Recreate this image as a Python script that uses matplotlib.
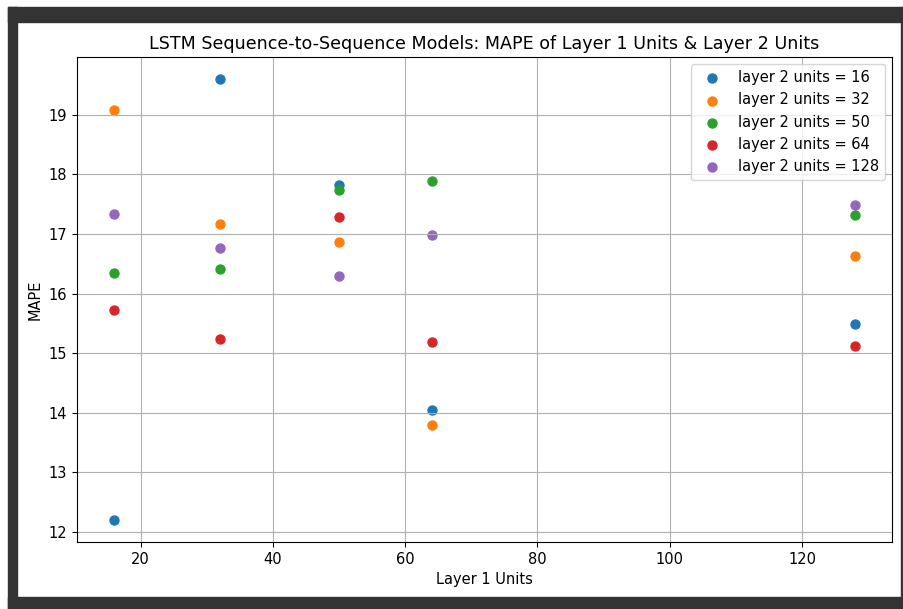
import matplotlib
matplotlib.use('Agg')
import matplotlib.pyplot as plt
from matplotlib.patches import Rectangle

# layer 1 units on the x axis, one series per layer 2 setting
layer1_units = [16, 32, 50, 64, 128]
layer2_units = [16, 32, 50, 64, 128]

mape_l2_16 = [12.20, 19.60, 17.82, 14.05, 15.49]
mape_l2_32 = [19.08, 17.17, 16.87, 13.80, 16.63]
mape_l2_50 = [16.35, 16.41, 17.74, 17.89, 17.32]
mape_l2_64 = [15.72, 15.24, 17.29, 15.19, 15.12]
mape_l2_128 = [17.33, 16.77, 16.30, 16.99, 17.49]

mape_series = [mape_l2_16, mape_l2_32, mape_l2_50, mape_l2_64, mape_l2_128]

plt.rcParams['font.size'] = 10.5

W, H = 904, 609
fig = plt.figure(figsize=(W / 100, H / 100), dpi=100)

# dark notebook-style frame around the plot area
frame = '#333333'
def px_rect(x0, y0, x1, y1):
    fig.patches.append(Rectangle((x0 / W, 1 - y1 / H), (x1 - x0) / W, (y1 - y0) / H,
                                 transform=fig.transFigure, color=frame, zorder=-10))
px_rect(8, 7, 904, 22)
px_rect(8, 597, 904, 609)
px_rect(8, 7, 17, 609)
px_rect(901, 7, 904, 609)

ax = fig.add_axes([77 / W, 1 - 542 / H, (892 - 77) / W, (542 - 57) / H])

for units, mape in zip(layer2_units, mape_series):
    ax.scatter(layer1_units, mape, s=42, label=f'layer 2 units = {units}')

ax.set_title('LSTM Sequence-to-Sequence Models: MAPE of Layer 1 Units & Layer 2 Units',
             fontsize=12.6)
ax.set_xlabel('Layer 1 Units')
ax.set_ylabel('MAPE')
ax.grid(True)
ax.legend(loc='upper right')

fig.savefig('out.png', dpi=100)
